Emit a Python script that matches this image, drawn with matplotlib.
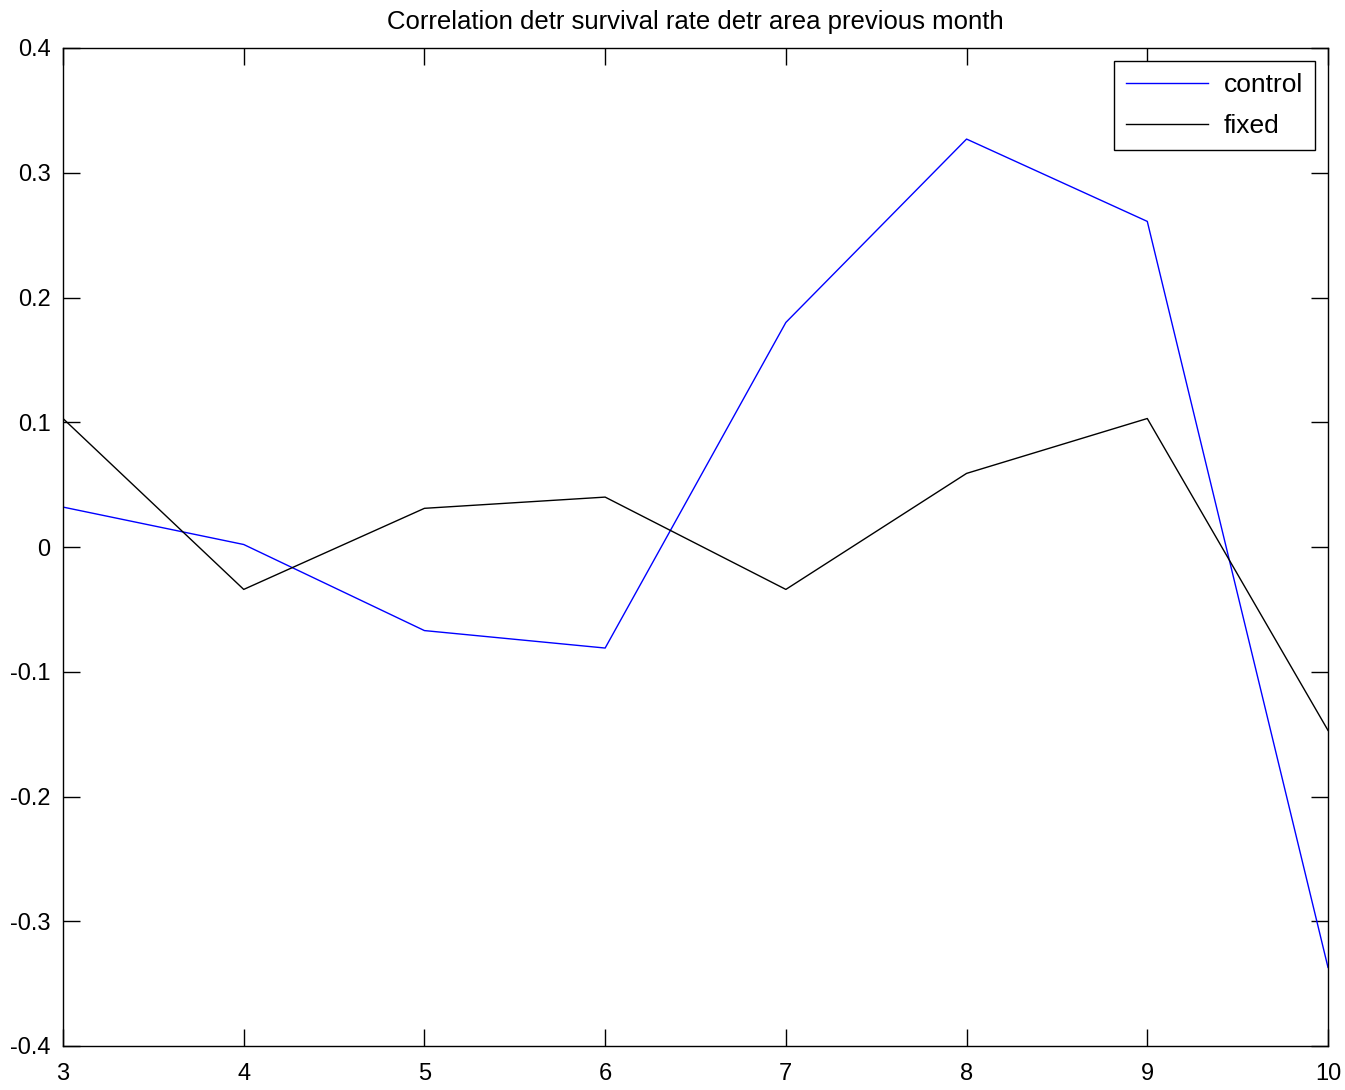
import matplotlib
matplotlib.use("Agg")
import matplotlib.pyplot as plt

plt.rcParams['font.family'] = ['Liberation Sans', 'DejaVu Sans']

months = [3, 4, 5, 6, 7, 8, 9, 10]
control = [0.032, 0.002, -0.067, -0.081, 0.180, 0.327, 0.261, -0.337]
fixed = [0.103, -0.034, 0.031, 0.040, -0.034, 0.059, 0.103, -0.147]

fig = plt.figure(figsize=(13.45, 10.9), dpi=100)
ax = fig.add_axes([63/1345, 1 - 1046/1090, (1328 - 63)/1345, (1046 - 48)/1090])

ax.plot(months, control, color='#0000ff', lw=1, label='control')
ax.plot(months, fixed, color='black', lw=1, label='fixed')

ax.set_xlim(3, 10)
ax.set_ylim(-0.4, 0.4)
ax.set_xticks(months)
ax.set_yticks([-0.4, -0.3, -0.2, -0.1, 0, 0.1, 0.2, 0.3, 0.4])
ax.set_yticklabels(['-0.4', '-0.3', '-0.2', '-0.1', '0', '0.1', '0.2', '0.3', '0.4'])
ax.tick_params(direction='in', length=12, width=1, top=True, right=True,
               labelsize=17)
ax.tick_params(axis='x', pad=12)
ax.tick_params(axis='y', pad=9)
for s in ax.spines.values():
    s.set_linewidth(1)

ax.set_title('Correlation detr survival rate detr area previous month', fontsize=18.5, pad=14)

leg = ax.legend(loc='upper right', fontsize=19, fancybox=False, framealpha=1,
                edgecolor='black', handlelength=3.1, handletextpad=0.6,
                borderpad=0.45, labelspacing=0.65, borderaxespad=0.5)
leg.get_frame().set_linewidth(1)

fig.savefig('out.png', dpi=100)
